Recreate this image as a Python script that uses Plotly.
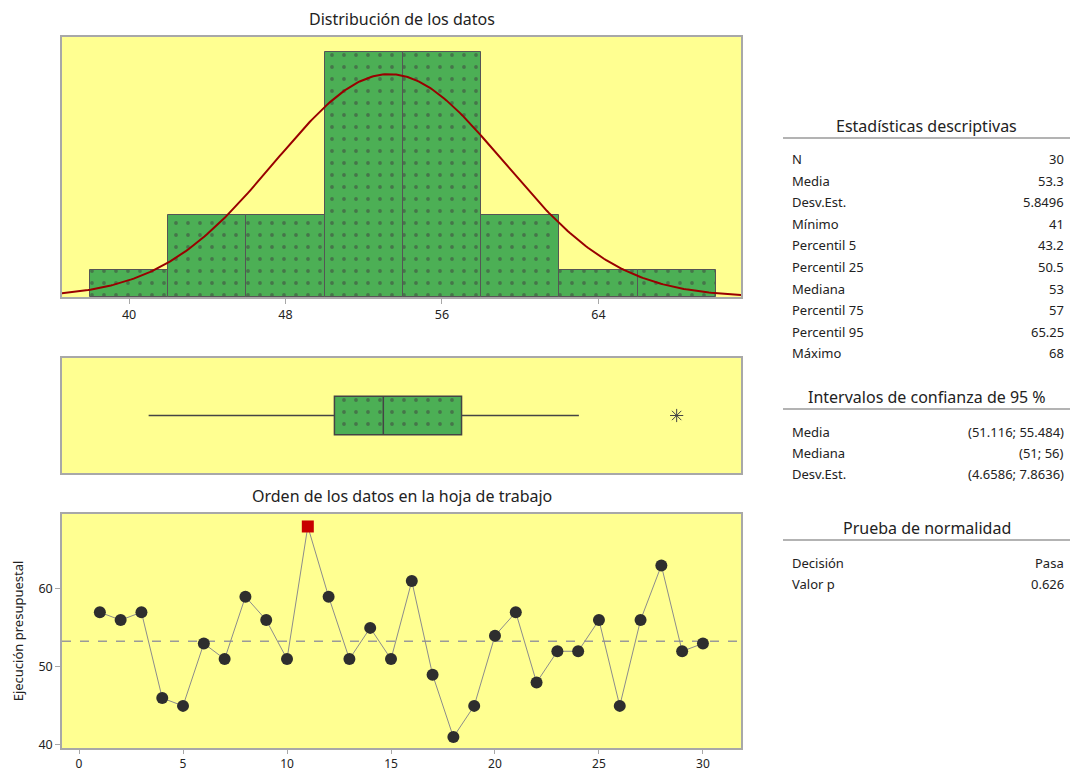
import numpy as np
import plotly.graph_objects as go

# ---------------- data ----------------
order = list(range(1, 31))
values = [57, 56, 57, 46, 45, 53, 51, 59, 56, 51, 68, 59, 51, 55, 51,
          61, 49, 41, 45, 54, 57, 48, 52, 52, 56, 45, 56, 63, 52, 53]

bin_start, bin_end, bin_size = 38, 70, 4
hist_ticks = [40, 48, 56, 64]

mean_val = 53.3
sd_val = 5.8496
q1_val, median_val, q3_val = 50.5, 53, 57
lower_fence, upper_fence = 41, 63

desc_labels = ["N", "Media", "Desv.Est.", "Mínimo", "Percentil 5", "Percentil 25",
               "Mediana", "Percentil 75", "Percentil 95", "Máximo"]
desc_values = ["30", "53.3", "5.8496", "41", "43.2", "50.5", "53", "57", "65.25", "68"]

ci_labels = ["Media", "Mediana", "Desv.Est."]
ci_values = ["(51.116; 55.484)", "(51; 56)", "(4.6586; 7.8636)"]

norm_labels = ["Decisión", "Valor p"]
norm_values = ["Pasa", "0.626"]

# ---------------- styling ----------------
W, H = 1072, 771
FONT = "Noto Sans"
YELLOW = "#FFFF91"
GREEN = "#4CAF55"
EDGE = "#555555"
FRAME = "#A8A8A8"


def px_x(p):
    return p / W


def px_y(p):
    return 1 - p / H


fig = go.Figure()

# Histogram
fig.add_trace(go.Histogram(
    x=values, xbins=dict(start=bin_start, end=bin_end, size=bin_size),
    marker=dict(color=GREEN, line=dict(color=EDGE, width=1),
                pattern=dict(shape=".", fgcolor="#3E3E3E", size=12, solidity=0.08)),
    xaxis="x", yaxis="y", showlegend=False))

# Fitted normal curve
xs = np.linspace(36.5, 71.4, 300)
ys = len(values) * bin_size * np.exp(-0.5 * ((xs - mean_val) / sd_val) ** 2) / (sd_val * np.sqrt(2 * np.pi))
fig.add_trace(go.Scatter(x=xs, y=ys, mode="lines", line=dict(color="#990000", width=2),
                         xaxis="x", yaxis="y", showlegend=False))

# Box plot: patterned bar behind + box outline
fig.add_trace(go.Bar(x=[q3_val - q1_val], base=[q1_val], y=[0], orientation="h", width=1.0,
                     marker=dict(color=GREEN, line=dict(width=0),
                                 pattern=dict(shape=".", fgcolor="#3E3E3E", size=12, solidity=0.08)),
                     xaxis="x2", yaxis="y2", showlegend=False))
fig.add_trace(go.Box(y=[0], q1=[q1_val], median=[median_val], q3=[q3_val],
                     lowerfence=[lower_fence], upperfence=[upper_fence],
                     orientation="h", width=1.0, whiskerwidth=0,
                     fillcolor="rgba(0,0,0,0)", line=dict(color="#444444", width=1.5),
                     boxpoints=False, xaxis="x2", yaxis="y2", showlegend=False))
outliers = [v for v in values if v > upper_fence or v < lower_fence]
fig.add_trace(go.Scatter(x=outliers, y=[0] * len(outliers), mode="markers",
                         marker=dict(symbol="asterisk-open", size=11, color="#444444",
                                     line=dict(color="#444444", width=1)),
                         xaxis="x2", yaxis="y2", showlegend=False))

# Time order plot
flags = [(v > upper_fence or v < lower_fence) for v in values]
fig.add_trace(go.Scatter(
    x=order, y=values, mode="lines+markers",
    line=dict(color="#8C8C8C", width=1),
    marker=dict(size=[12 if f else 12 for f in flags],
                symbol=["square" if f else "circle" for f in flags],
                color=["#C80000" if f else "#2E2E2E" for f in flags],
                opacity=1,
                line=dict(width=0)),
    xaxis="x3", yaxis="y3", showlegend=False))

fig.add_shape(type="line", xref="x3 domain", yref="y3", x0=0, x1=1, y0=mean_val, y1=mean_val,
              line=dict(color="#9A9A9A", width=1.5, dash="dash"), layer="below")

x_dom = [px_x(62), px_x(741)]
axis_common = dict(showline=True, mirror=True, linecolor=FRAME, linewidth=1.5,
                   showgrid=False, zeroline=False, automargin=False)

fig.update_layout(
    width=W, height=H,
    margin=dict(l=0, r=0, t=0, b=0),
    paper_bgcolor="white", plot_bgcolor=YELLOW,
    font=dict(family=FONT, size=12, color="#222222"),
    bargap=0,
    xaxis=dict(domain=x_dom, anchor="y", range=[36.57, 71.29], tickvals=hist_ticks,
               ticks="outside", ticklen=5, tickcolor=FRAME, tickfont=dict(size=12.5), **axis_common),
    yaxis=dict(domain=[px_y(297), px_y(37)], anchor="x", range=[0, 9.55],
               showticklabels=False, ticks="", **axis_common),
    xaxis2=dict(domain=x_dom, anchor="y2", range=[36.57, 71.29], showticklabels=False,
                ticks="", **axis_common),
    yaxis2=dict(domain=[px_y(473), px_y(358)], anchor="x2", range=[-1.5, 1.5],
                showticklabels=False, ticks="", **axis_common),
    xaxis3=dict(domain=x_dom, anchor="y3", range=[-0.82, 31.83], tickvals=[0, 5, 10, 15, 20, 25, 30],
                ticks="outside", ticklen=4, tickcolor=FRAME, tickfont=dict(size=12), **axis_common),
    yaxis3=dict(domain=[px_y(748), px_y(514)], anchor="x3", range=[39.6, 69.6],
                tickvals=[40, 50, 60], ticks="outside", ticklen=5, tickcolor=FRAME,
                tickfont=dict(size=12.5),
                title=dict(text="Ejecución presupuestal", font=dict(size=13), standoff=12),
                **axis_common),
)

annotations = []
# Panel titles
annotations.append(dict(text="Distribución de los datos", x=(x_dom[0] + x_dom[1]) / 2, y=px_y(19),
                        xref="paper", yref="paper", showarrow=False, font=dict(size=16),
                        xanchor="center", yanchor="middle"))
annotations.append(dict(text="Orden de los datos en la hoja de trabajo", x=(x_dom[0] + x_dom[1]) / 2,
                        y=px_y(496), xref="paper", yref="paper", showarrow=False, font=dict(size=16),
                        xanchor="center", yanchor="middle"))

shapes = []
TBL_L, TBL_R = 783, 1070
LAB_X, VAL_X = 790, 1066


def add_table(title, title_y, labels, vals, first_row_y, step):
    annotations.append(dict(text=title, x=px_x((TBL_L + TBL_R) / 2), y=px_y(title_y), xref="paper",
                            yref="paper", showarrow=False, font=dict(size=16),
                            xanchor="center", yanchor="middle"))
    shapes.append(dict(type="line", xref="paper", yref="paper", x0=px_x(TBL_L), x1=px_x(TBL_R),
                       y0=px_y(title_y + 12), y1=px_y(title_y + 12),
                       line=dict(color="#9A9A9A", width=1.5)))
    for i, (lab, val) in enumerate(zip(labels, vals)):
        yy = px_y(first_row_y + i * step)
        annotations.append(dict(text=lab, x=px_x(LAB_X), y=yy, xref="paper", yref="paper",
                                showarrow=False, font=dict(size=13), xanchor="left", yanchor="middle"))
        annotations.append(dict(text=val, x=px_x(VAL_X), y=yy, xref="paper", yref="paper",
                                showarrow=False, font=dict(size=13), xanchor="right", yanchor="middle"))


add_table("Estadísticas descriptivas", 126, desc_labels, desc_values, 159, 21.6)
add_table("Intervalos de confianza de 95 %", 397, ci_labels, ci_values, 432, 21.2)
add_table("Prueba de normalidad", 528, norm_labels, norm_values, 563, 21.2)

fig.update_layout(annotations=annotations, shapes=list(fig.layout.shapes) + shapes)

fig.write_html("out.html", config={"displayModeBar": False},
               post_script="document.body.style.margin='0';document.body.style.overflow='hidden';")
